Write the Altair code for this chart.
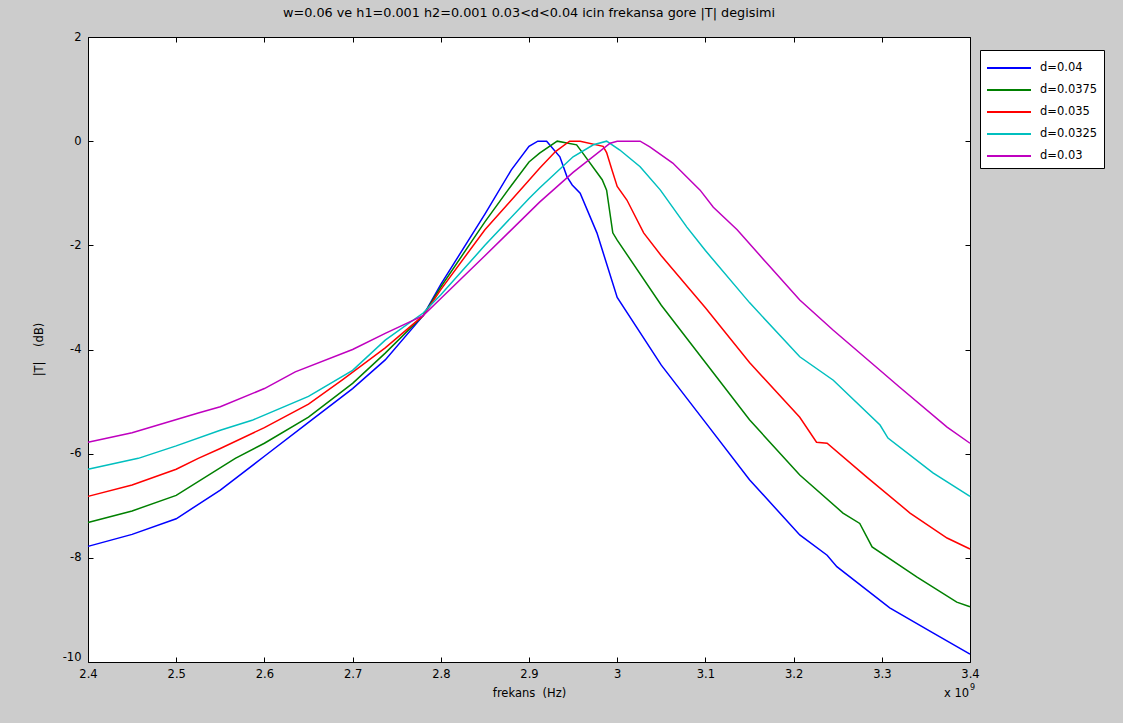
import altair as alt
import pandas as pd

FONT = "DejaVu Sans"

series_names = ["d=0.04", "d=0.0375", "d=0.035", "d=0.0325", "d=0.03"]
series_colors = ["#0000ff", "#008000", "#ff0000", "#00bfbf", "#bf00bf"]

x_d040 = [2.40, 2.45, 2.50, 2.55, 2.60, 2.65, 2.70, 2.737, 2.78, 2.80, 2.85, 2.88, 2.90, 2.91, 2.92,
          2.935, 2.943, 2.949, 2.958, 2.977, 3.00, 3.05, 3.10, 3.15, 3.207, 3.238, 3.249, 3.309, 3.358, 3.40]
y_d040 = [-7.78, -7.55, -7.25, -6.7, -6.05, -5.4, -4.75, -4.2, -3.35, -2.75, -1.4, -0.55, -0.1, 0.0, 0.0,
          -0.3, -0.68, -0.84, -1.0, -1.76, -3.0, -4.3, -5.4, -6.5, -7.56, -7.95, -8.17, -8.96, -9.44, -9.85]

x_d0375 = [2.40, 2.45, 2.50, 2.567, 2.60, 2.65, 2.70, 2.737, 2.78, 2.80, 2.85, 2.88, 2.90, 2.912, 2.932,
           2.954, 2.961, 2.983, 2.988, 2.995, 3.00, 3.05, 3.10, 3.15, 3.207, 3.256, 3.275, 3.289, 3.34, 3.385, 3.40]
y_d0375 = [-7.32, -7.1, -6.8, -6.09, -5.8, -5.3, -4.65, -4.07, -3.35, -2.8, -1.55, -0.85, -0.4, -0.23, 0.0,
           -0.07, -0.23, -0.74, -0.94, -1.76, -1.9, -3.15, -4.25, -5.35, -6.41, -7.14, -7.34, -7.79, -8.37, -8.85, -8.94]

x_d035 = [2.40, 2.45, 2.50, 2.525, 2.55, 2.60, 2.65, 2.688, 2.737, 2.78, 2.80, 2.85, 2.90, 2.912, 2.93,
          2.946, 2.958, 2.984, 2.988, 2.994, 3.00, 3.011, 3.03, 3.05, 3.10, 3.15, 3.207, 3.226, 3.238,
          3.283, 3.332, 3.374, 3.40]
y_d035 = [-6.82, -6.6, -6.3, -6.09, -5.9, -5.5, -5.05, -4.59, -3.97, -3.35, -2.85, -1.7, -0.75, -0.52, -0.2,
          0.0, 0.0, -0.1, -0.22, -0.55, -0.87, -1.13, -1.76, -2.2, -3.2, -4.25, -5.3, -5.78, -5.8,
          -6.45, -7.14, -7.62, -7.83]

x_d0325 = [2.40, 2.457, 2.50, 2.55, 2.586, 2.65, 2.70, 2.737, 2.78, 2.80, 2.85, 2.90, 2.912, 2.95, 2.973,
           2.988, 3.003, 3.026, 3.049, 3.079, 3.10, 3.15, 3.207, 3.245, 3.298, 3.307, 3.358, 3.40]
y_d0325 = [-6.3, -6.09, -5.85, -5.55, -5.36, -4.9, -4.4, -3.82, -3.3, -2.95, -2.0, -1.1, -0.9, -0.3, -0.07,
           0.0, -0.17, -0.49, -0.94, -1.65, -2.1, -3.1, -4.14, -4.59, -5.45, -5.7, -6.37, -6.82]

x_d030 = [2.40, 2.45, 2.525, 2.55, 2.60, 2.635, 2.70, 2.737, 2.78, 2.80, 2.85, 2.912, 2.95, 2.992, 3.00,
          3.026, 3.037, 3.063, 3.094, 3.109, 3.136, 3.17, 3.207, 3.245, 3.287, 3.32, 3.374, 3.40]
y_d030 = [-5.78, -5.6, -5.22, -5.1, -4.75, -4.43, -4.0, -3.69, -3.35, -3.02, -2.2, -1.17, -0.6, -0.04, 0.0,
          0.0, -0.11, -0.42, -0.94, -1.27, -1.7, -2.35, -3.05, -3.63, -4.24, -4.72, -5.49, -5.8]

x_ticks = [2.4, 2.5, 2.6, 2.7, 2.8, 2.9, 3.0, 3.1, 3.2, 3.3, 3.4]
y_ticks = [-10, -8, -6, -4, -2, 0, 2]

NB = "\u00a0"
title_text = "w=0.06 ve h1=0.001 h2=0.001 0.03<d<0.04 icin frekansa gore |T| degisimi"
x_title = "frekans" + NB * 2 + "(Hz)"
y_title = "|T|" + NB * 4 + "(dB)"

rows = []
for name, xs, ys in zip(series_names,
                        [x_d040, x_d0375, x_d035, x_d0325, x_d030],
                        [y_d040, y_d0375, y_d035, y_d0325, y_d030]):
    for i, (xv, yv) in enumerate(zip(xs, ys)):
        rows.append({"series": name, "f": xv, "T": yv, "idx": i})
df = pd.DataFrame(rows)

xscale = alt.Scale(domain=[2.4, 3.4], nice=False, zero=False)
yscale = alt.Scale(domain=[-10, 2], nice=False, zero=False)

W, H = 882, 625
FS = 11.5

color_enc = alt.Color(
    "series:N",
    sort=series_names,
    scale=alt.Scale(domain=series_names, range=series_colors),
    legend=alt.Legend(
        title=None, orient="none", legendX=892, legendY=13,
        fillColor="white", strokeColor="black", padding=6,
        symbolType="M-1,0H3", symbolSize=484, symbolStrokeWidth=2,
        labelFont=FONT, labelFontSize=FS, labelColor="black",
        labelOffset=30, rowPadding=4, cornerRadius=0,
    ),
)

ylabel_expr = "datum.value < 0 ? '-' + abs(datum.value) : '' + datum.value"

lines = alt.Chart(df).mark_line(strokeWidth=1.5).encode(
    x=alt.X("f:Q", scale=xscale, axis=alt.Axis(
        orient="bottom", values=x_ticks, format=".1~f", title=x_title,
        offset=-5, tickSize=5, domain=False, grid=False, tickColor="black",
        labelFont=FONT, labelFontSize=FS, labelColor="black", labelPadding=6,
        titleFont=FONT, titleFontSize=FS, titleFontWeight="normal", titleColor="black",
        titlePadding=8, labelFlush=False)),
    y=alt.Y("T:Q", scale=yscale, axis=alt.Axis(
        orient="left", values=y_ticks, labelExpr=ylabel_expr, title=y_title,
        offset=-5, tickSize=5, domain=False, grid=False, tickColor="black",
        labelFont=FONT, labelFontSize=FS, labelColor="black", labelPadding=7,
        labelBaseline=alt.condition("datum.value == -10", alt.value("bottom"), alt.value("middle")),
        titleFont=FONT, titleFontSize=FS, titleFontWeight="normal", titleColor="black",
        titleX=-54, titleY=312, titleAngle=270, titleAlign="center", titleBaseline="middle",
        labelFlush=False)),
    color=color_enc,
    order="idx:Q",
)

ghost = alt.Chart(df).mark_line(opacity=0).encode(
    x=alt.X("f:Q", scale=xscale, axis=alt.Axis(
        orient="top", values=x_ticks, labels=False, title=None,
        offset=-5, tickSize=5, domain=False, grid=False, tickColor="black")),
    y=alt.Y("T:Q", scale=yscale, axis=alt.Axis(
        orient="right", values=y_ticks, labels=False, title=None,
        offset=-5, tickSize=5, domain=False, grid=False, tickColor="black")),
    detail="series:N",
    order="idx:Q",
)

exp_df = pd.DataFrame({"t": ["x 10"]})
exp_base = alt.Chart(exp_df).mark_text(font=FONT, fontSize=FS, color="black", align="left", baseline="middle").encode(
    x=alt.value(856), y=alt.value(657), text=alt.value("x 10"))
exp_sup = alt.Chart(exp_df).mark_text(font=FONT, fontSize=8, color="black", align="left", baseline="middle").encode(
    x=alt.value(882), y=alt.value(651), text=alt.value("9"))

chart = alt.layer(lines, ghost, exp_base, exp_sup).resolve_axis(
    x="independent", y="independent"
).properties(
    width=W, height=H,
    title=alt.TitleParams(title_text, font=FONT, fontSize=12.8, fontWeight="normal",
                          color="black", anchor="middle", frame="group", offset=11),
    autosize=alt.AutoSizeParams(type="none"),
    padding={"left": 88, "top": 37, "right": 153, "bottom": 61},
).configure(background="#cccccc").configure_view(
    fill="white", stroke="black", strokeWidth=1
)

chart.save("out.html", embed_options={"renderer": "svg", "actions": False})
